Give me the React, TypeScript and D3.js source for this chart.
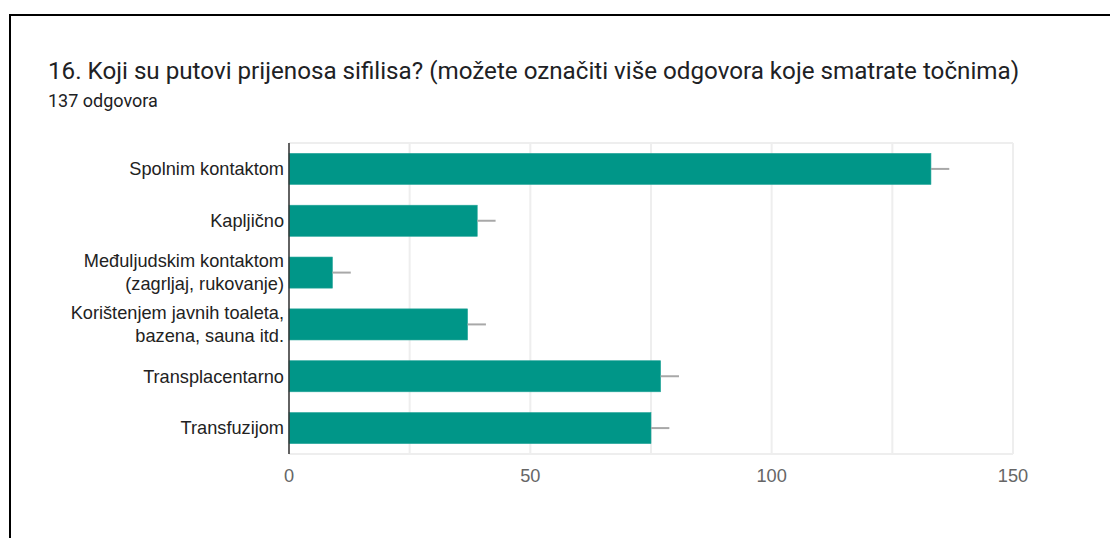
import React from "react";
import * as d3 from "d3";

const categories: string[][] = [
  ["Spolnim kontaktom"],
  ["Kapljično"],
  ["Međuljudskim kontaktom", "(zagrljaj, rukovanje)"],
  ["Korištenjem javnih toaleta,", "bazena, sauna itd."],
  ["Transplacentarno"],
  ["Transfuzijom"],
];
const values: number[] = [133, 39, 9, 37, 77, 75];
const whiskers: number[] = [3.8, 3.8, 3.8, 3.8, 3.8, 3.8];
const ticks: number[] = [0, 50, 100, 150];
const gridTicks: number[] = [0, 25, 50, 75, 100, 125, 150];
const title = "16. Koji su putovi prijenosa sifilisa? (možete označiti više odgovora koje smatrate točnima)";
const subtitle = "137 odgovora";

export default function App() {
  const W = 1110, H = 538;
  const left = 289, right = 1013, top = 143, bottom = 454;
  const x = d3.scaleLinear().domain([0, 150]).range([left, right]);
  const keys = categories.map((c) => c.join(" "));
  const y = d3.scaleBand<string>().domain(keys).range([top, bottom]).paddingInner(0.4).paddingOuter(0.2);
  const bw = y.bandwidth();
  return (
    <svg width={W} height={H} style={{ position: "absolute", left: 0, top: 0, background: "#fff" }}>
      <rect x={0} y={0} width={W} height={H} fill="#fff" />
      <line x1={9} x2={W} y1={15} y2={15} stroke="#000" strokeWidth={2} />
      <line x1={10} x2={10} y1={14} y2={H} stroke="#000" strokeWidth={2} />
      <text x={48} y={79} fontFamily="Roboto, Arial, sans-serif" fontSize={24.2} fill="#202124">{title}</text>
      <text x={48} y={107} fontFamily="Roboto, Arial, sans-serif" fontSize={18} fill="#202124">{subtitle}</text>
      {gridTicks.map((t) => (
        <line key={"g" + t} x1={x(t)} x2={x(t)} y1={top} y2={bottom} stroke="#eeeeee" strokeWidth={2} />
      ))}
      <line x1={left} x2={right} y1={top} y2={top} stroke="#eeeeee" strokeWidth={2} />
      <line x1={left} x2={right} y1={bottom} y2={bottom} stroke="#eeeeee" strokeWidth={2} />
      {values.map((v, i) => {
        const yy = y(keys[i])!;
        const cy = yy + bw / 2;
        return (
          <g key={i}>
            <rect x={x(0)} y={yy} width={x(v) - x(0)} height={bw} fill="#009688" stroke="#26a69a" strokeWidth={0.6} />
            <line x1={x(v)} x2={x(v + whiskers[i])} y1={cy} y2={cy} stroke="#a8a8a8" strokeWidth={2} />
          </g>
        );
      })}
      <line x1={left} x2={left} y1={top} y2={bottom} stroke="#333" strokeWidth={1.5} />
      {categories.map((c, i) => {
        const cy = y(keys[i])! + bw / 2;
        const lh = 23;
        return c.map((line, j) => (
          <text key={i + "-" + j} x={284} y={cy + (j - (c.length - 1) / 2) * lh} dy="0.35em" textAnchor="end"
            fontFamily="Arial, 'Liberation Sans', sans-serif" fontSize={18.2} fill="#222">{line}</text>
        ));
      })}
      {ticks.map((t) => (
        <text key={"t" + t} x={x(t)} y={476} dy="0.35em" textAnchor="middle"
          fontFamily="Arial, 'Liberation Sans', sans-serif" fontSize={18.2} fill="#666">{t}</text>
      ))}
    </svg>
  );
}
